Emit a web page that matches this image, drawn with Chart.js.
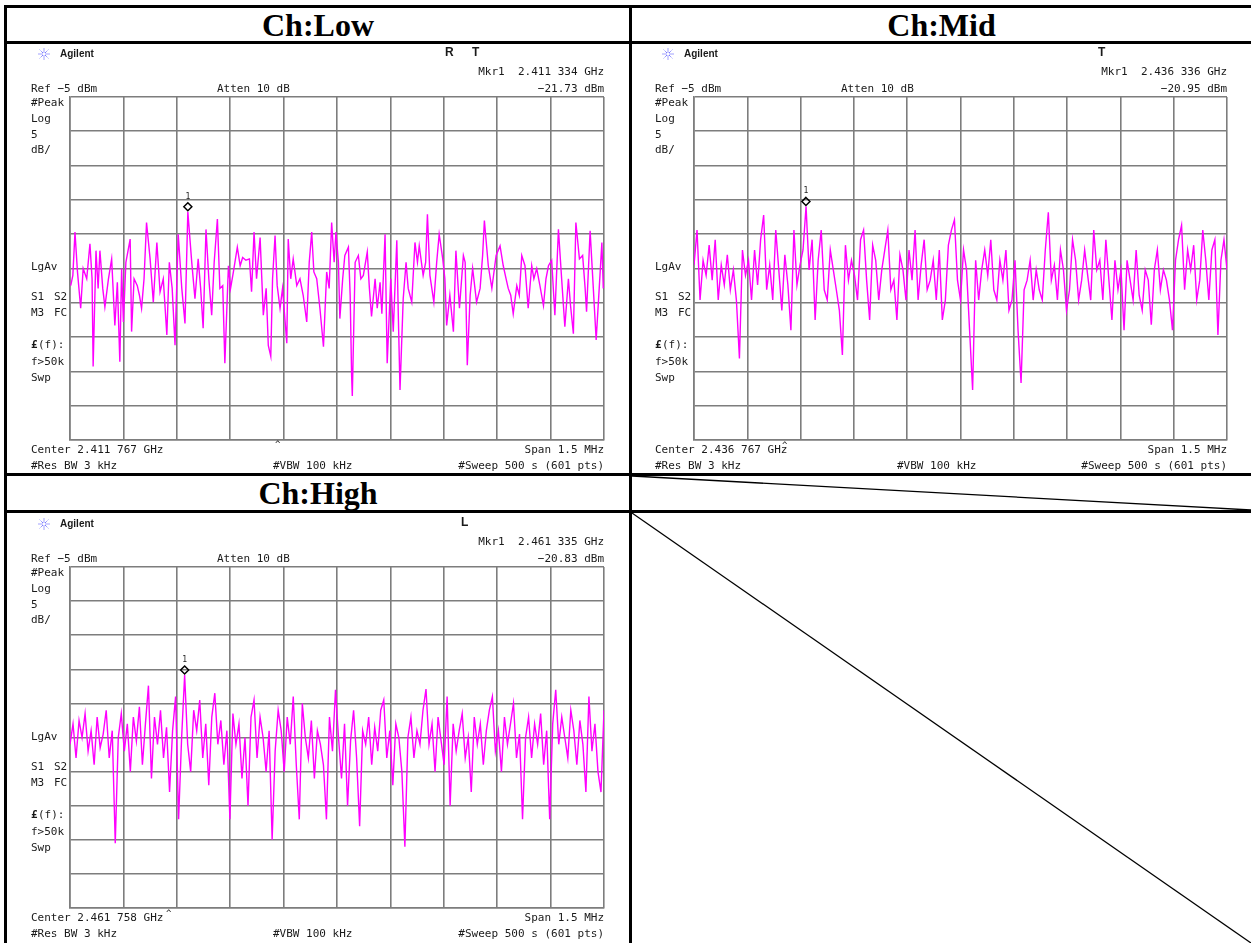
<!DOCTYPE html>
<html>
<head>
<meta charset="utf-8">
<script src="https://cdn.jsdelivr.net/npm/chart.js@4.4.1/dist/chart.umd.min.js"></script>
<style>
  html, body { margin: 0; padding: 0; background: #fff; width: 1251px; height: 943px; overflow: hidden; }
  .wrap { position: relative; width: 1251px; height: 943px; }
  .rule { position: absolute; background: #000; }
  .title { position: absolute; font-family: "Liberation Serif", "Times New Roman", serif; font-weight: bold;
           font-size: 32px; line-height: 34px; text-align: center; color: #000; }
  canvas { position: absolute; }
  svg { position: absolute; left: 0; top: 0; }
</style>
</head>
<body>
<div class="wrap">
  <canvas id="lowChart" width="622" height="430" style="left:7px;top:44px"></canvas>
  <canvas id="midChart" width="622" height="430" style="left:632px;top:44px"></canvas>
  <canvas id="highChart" width="622" height="430" style="left:7px;top:513px"></canvas>

  <div class="title" style="left:7px;top:8px;width:622px">Ch:Low</div>
  <div class="title" style="left:632px;top:8px;width:619px">Ch:Mid</div>
  <div class="title" style="left:7px;top:476px;width:622px">Ch:High</div>

  <!-- table rules -->
  <div class="rule" style="left:4px;top:5px;width:1247px;height:3px"></div>
  <div class="rule" style="left:4px;top:41px;width:1247px;height:3px"></div>
  <div class="rule" style="left:4px;top:473px;width:1247px;height:3px"></div>
  <div class="rule" style="left:4px;top:510px;width:1247px;height:3px"></div>
  <div class="rule" style="left:4px;top:5px;width:3px;height:938px"></div>
  <div class="rule" style="left:629px;top:5px;width:3px;height:938px"></div>

  <svg width="1251" height="943">
    <line x1="632" y1="476" x2="1251" y2="510" stroke="#000" stroke-width="1.3"/>
    <line x1="632" y1="513" x2="1251" y2="943" stroke="#000" stroke-width="1.3"/>
  </svg>
</div>

<script>
// Spectrum analyzer screens: span 1.5 MHz around each centre, Ref -5 dBm, 5 dB/div

// Ch:Low trace, frequency offset from centre (kHz) and level (dBm)
const lowFreq = [
  -748, -742, -736, -729, -720, -713, -703, -694, -688, -685, -677, -671, -666, -658, -652, -642,
  -633, -624, -617, -610, -605, -600, -593, -581, -577, -570, -561, -555, -549, -542, -535, -525,
  -516, -506, -497, -488, -478, -471, -463, -455, -446, -436, -427, -419, -408, -399, -390, -383,
  -376, -368, -360, -352, -345, -336, -329, -321, -315, -305, -299, -291, -280, -272, -265, -256,
  -246, -240, -233, -226, -216, -207, -199, -193, -186, -181, -174, -168, -160, -153, -141, -137,
  -130, -123, -113, -104, -95, -85, -78, -71, -65, -57, -48, -38, -29, -22, -15, -8,
  -3, 4, 8, 16, 22, 32, 37, 41, 43, 51, 60, 67, 74, 85, 91, 97,
  107, 113, 121, 126, 135, 141, 151, 158, 168, 172, 177, 186, 194, 200, 210, 219,
  226, 231, 242, 249, 254, 261, 272, 280, 287, 297, 303, 308, 317, 327, 334, 344,
  355, 360, 366, 374, 381, 392, 402, 409, 414, 425, 435, 447, 458, 467, 475, 481,
  488, 495, 505, 512, 519, 528, 537, 547, 553, 561, 570, 580, 587, 594, 603, 612,
  622, 631, 640, 650, 656, 664, 671, 681, 690, 697, 701, 711, 720, 728, 737, 744,
  748
];
const lowLevel = [
  -32.5, -31.0, -24.7, -30.5, -35.8, -30.0, -31.5, -26.4, -31.5, -44.3, -27.4, -32.9, -27.4, -32.9, -35.6, -31.5,
  -28.6, -38.3, -32.0, -43.6, -30.0, -37.8, -29.1, -25.7, -39.2, -31.5, -32.5, -33.9, -35.8, -31.5, -23.3, -28.6,
  -34.9, -26.2, -33.4, -31.5, -39.7, -29.1, -32.9, -41.2, -25.0, -32.9, -38.0, -21.73, -29.1, -34.4, -28.6, -32.9,
  -38.7, -24.3, -31.5, -36.8, -29.1, -22.8, -32.9, -32.5, -43.8, -29.6, -32.9, -30.5, -26.9, -29.6, -28.4, -28.8,
  -28.6, -33.4, -24.7, -31.5, -25.5, -36.8, -32.9, -41.2, -42.8, -31.5, -25.2, -32.5, -35.8, -32.9, -40.9, -25.7,
  -31.5, -28.6, -32.5, -31.5, -33.9, -37.8, -29.1, -24.7, -30.5, -31.5, -35.8, -41.4, -30.5, -32.9, -23.3, -29.1,
  -24.7, -29.1, -37.3, -31.5, -28.1, -26.9, -33.9, -45.5, -48.6, -29.1, -28.1, -31.5, -31.0, -27.6, -32.9, -37.0,
  -31.5, -35.8, -32.0, -36.6, -25.0, -43.8, -31.5, -39.2, -25.9, -36.3, -47.7, -34.4, -29.1, -32.9, -34.9, -26.2,
  -29.1, -26.7, -31.0, -29.1, -22.1, -31.0, -34.9, -29.1, -25.0, -28.6, -31.5, -38.3, -33.9, -39.2, -27.4, -35.8,
  -28.1, -29.1, -44.1, -33.9, -30.0, -34.9, -32.9, -28.1, -23.0, -29.6, -32.9, -28.1, -26.7, -29.6, -31.5, -32.9,
  -33.9, -36.6, -32.5, -33.9, -28.1, -29.6, -35.8, -29.6, -31.5, -30.0, -32.5, -35.4, -31.5, -29.6, -28.8, -36.8,
  -24.3, -31.5, -38.5, -31.5, -35.4, -39.5, -23.3, -28.6, -28.1, -32.9, -36.3, -24.5, -32.9, -40.4, -32.5, -26.2,
  -32.9
];

// Ch:Mid trace, sweep points read evenly across the span (dBm)
const midLevel = [
  -29.5, -24.4, -34.6, -28.8, -31.0, -26.6, -31.7, -25.8, -34.6, -29.5,
  -32.4, -28.0, -33.1, -30.2, -34.6, -43.1, -27.3, -31.0, -28.8, -34.6,
  -27.3, -32.4, -25.8, -22.2, -33.1, -29.5, -34.6, -24.4, -30.2, -36.1,
  -28.0, -32.4, -39.0, -24.4, -32.4, -29.5, -27.3, -20.95, -30.2, -25.8,
  -37.5, -28.8, -24.4, -33.1, -34.6, -27.3, -30.2, -33.1, -36.1, -42.6,
  -26.6, -31.7, -28.8, -31.0, -34.6, -25.8, -24.4, -31.7, -37.5, -26.6,
  -28.8, -34.6, -30.2, -27.3, -24.4, -33.1, -31.7, -37.5, -28.0, -30.2,
  -34.6, -27.3, -31.7, -24.4, -34.6, -29.5, -25.8, -33.1, -31.7, -28.8,
  -34.6, -27.3, -37.5, -34.6, -26.6, -24.4, -22.9, -31.7, -34.6, -27.3,
  -30.2, -39.0, -47.7, -28.8, -34.6, -30.2, -27.3, -31.0, -25.8, -33.1,
  -34.6, -28.8, -31.7, -27.3, -36.1, -34.6, -28.8, -39.0, -46.7, -33.1,
  -31.7, -28.8, -34.6, -30.2, -33.1, -34.6, -27.3, -21.8, -31.7, -29.5,
  -34.6, -27.3, -30.2, -36.1, -33.1, -25.8, -28.8, -34.6, -31.7, -27.3,
  -31.0, -34.6, -24.4, -30.2, -28.8, -34.6, -25.8, -31.7, -37.5, -28.8,
  -33.1, -30.2, -39.0, -28.8, -31.7, -34.6, -27.3, -33.9, -36.1, -30.2,
  -31.7, -38.2, -30.2, -27.3, -33.1, -30.2, -31.7, -34.6, -39.0, -28.8,
  -25.8, -23.7, -33.1, -27.3, -30.2, -26.6, -34.6, -31.7, -24.4, -28.8,
  -34.6, -27.3, -25.8, -39.7, -28.8, -25.8, -30.2
];

// Ch:High trace, sweep points read evenly across the span (dBm)
const highLevel = [
  -31, -28, -33, -27.5, -30, -26.5, -32, -29, -34, -27,
  -31.5, -29.5, -26, -33, -29, -45.5, -30, -26.5, -32, -28,
  -35, -27, -30.5, -25.5, -34, -28, -22.4, -36, -27, -31,
  -26, -33, -28.5, -38, -29, -24, -42, -30, -20.83, -31,
  -35, -26, -29, -24.5, -33, -28, -37, -27, -23.5, -31,
  -27.5, -34, -29, -42, -26.5, -31, -28, -36, -30, -40,
  -27, -24.5, -33, -27, -30, -35, -29, -45, -32, -26,
  -29, -35, -27, -31, -24, -34, -42, -25, -30, -33,
  -27.5, -36, -29, -31, -34, -42, -27, -32, -23, -30,
  -36, -28, -40, -30.5, -26, -33, -43, -29, -31, -27,
  -34, -28.5, -32, -26, -24.5, -33, -29, -37, -28, -30,
  -35, -46, -30, -27, -33, -29, -31, -26, -22.9, -31,
  -28, -35, -27, -30.5, -34, -24, -40, -28, -32, -29,
  -26.5, -33, -30, -38, -27, -31, -28, -34, -29, -26,
  -24, -32, -29, -35, -27, -31, -28, -25, -33, -29.5,
  -42, -30, -27, -33, -28, -31, -26.5, -34, -29, -42,
  -28, -23, -31, -27, -30, -33, -26, -29, -34, -27.5,
  -31, -38, -24, -32, -28, -35, -38, -26
];

// Marker 1 positions as drawn (kHz offset, dBm)
const lowMarker = { freq: -419, level: -21.73 };
const midMarker = { freq: -435, level: -20.95 };
const highMarker = { freq: -428, level: -20.83 };

const SPAN_KHZ = 1500;
const GRID = '#7d7d7d';
const TRACE = '#ff00ff';
const TEXT = '#1a1a1a';
const MONO = '11px "DejaVu Sans Mono", monospace';

// Helper function to pair evenly spaced sweep points with their frequency
function sweepPoints(levels) {
    let step = SPAN_KHZ / (levels.length - 1);
    return levels.map((v, i) => ({ x: -SPAN_KHZ / 2 + i * step, y: v }));
}

// Helper function to pair explicit frequencies with levels
function pairPoints(freqs, levels) {
    return freqs.map((f, i) => ({ x: f, y: levels[i] }));
}

// Helper function to draw the little Agilent starburst
function drawLogo(ctx, cx, cy) {
    ctx.save();
    ctx.strokeStyle = '#4646ff';
    ctx.lineWidth = 1;
    ctx.setLineDash([1, 1]);
    for (let k = 0; k < 8; k++) {
        let ang = k * Math.PI / 4;
        ctx.beginPath();
        ctx.moveTo(cx + Math.cos(ang) * 1.5, cy + Math.sin(ang) * 1.5);
        ctx.lineTo(cx + Math.cos(ang) * 6, cy + Math.sin(ang) * 6);
        ctx.stroke();
    }
    ctx.restore();
}

// Draws the analyzer annotations around the graticule
const screenText = {
    id: 'screenText',
    afterDraw(chart, args, info) {
        if (!info || !info.mkrFreq) return;
        const ctx = chart.ctx;
        const a = chart.chartArea;
        const left = a.left - 39;
        ctx.save();
        ctx.fillStyle = TEXT;
        ctx.textBaseline = 'middle';

        drawLogo(ctx, a.left - 26, a.top - 43);
        ctx.font = 'bold 10px "Liberation Sans", Arial, sans-serif';
        ctx.textAlign = 'left';
        ctx.fillText('Agilent', a.left - 10, a.top - 43);
        ctx.font = 'bold 12px "Liberation Sans", Arial, sans-serif';
        info.status.forEach(s => ctx.fillText(s[0], a.left + s[1], a.top - 44));

        ctx.font = MONO;
        ctx.textAlign = 'right';
        ctx.fillText('Mkr1  ' + info.mkrFreq, a.right, a.top - 25);
        ctx.fillText(info.mkrLevel, a.right, a.top - 8);
        ctx.fillText('Span 1.5 MHz', a.right, a.bottom + 10);
        ctx.fillText('#Sweep 500 s (601 pts)', a.right, a.bottom + 26);

        ctx.textAlign = 'left';
        ctx.fillText('Ref \u22125 dBm', left, a.top - 8);
        ctx.fillText('Atten 10 dB', a.left + 147, a.top - 8);
        [['#Peak', 6], ['Log', 22], ['5', 38], ['dB/', 53], ['LgAv', 170],
         ['S1', 200], ['M3', 216], ['f>50k', 265], ['Swp', 281]].forEach(t => {
            ctx.fillText(t[0], left, a.top + t[1]);
        });
        ctx.fillText('S2', left + 23, a.top + 200);
        ctx.fillText('FC', left + 23, a.top + 216);
        ctx.font = 'bold 11px "DejaVu Sans Mono", monospace';
        ctx.fillText('\u00a3', left, a.top + 248);
        ctx.font = MONO;
        ctx.fillText('(f):', left + 7, a.top + 248);

        ctx.fillText('Center ' + info.center, left, a.bottom + 10);
        ctx.fillText('#Res BW 3 kHz', left, a.bottom + 26);
        ctx.fillText('#VBW 100 kHz', a.left + 203, a.bottom + 26);
        ctx.font = '9px "DejaVu Sans Mono", monospace';
        ctx.fillText('^', a.left + info.caret[0], a.bottom + info.caret[1]);

        // marker 1 diamond, sitting just above the trace point
        const m = info.marker;
        const mx = chart.scales.x.getPixelForValue(m.freq);
        const my = chart.scales.y.getPixelForValue(m.level) - 5;
        ctx.strokeStyle = '#000';
        ctx.lineWidth = 1.5;
        ctx.beginPath();
        ctx.moveTo(mx, my - 4);
        ctx.lineTo(mx + 4, my);
        ctx.lineTo(mx, my + 4);
        ctx.lineTo(mx - 4, my);
        ctx.closePath();
        ctx.stroke();
        ctx.font = '8px "DejaVu Sans Mono", monospace';
        ctx.textAlign = 'center';
        ctx.fillText('1', mx, my - 10);
        ctx.restore();
    }
};

// Helper function to initialize one analyzer screen
function initializeScreen(id, points, pad, info) {
    const gridOpts = { color: GRID, lineWidth: 1.6, drawTicks: false };
    return new Chart(document.getElementById(id), {
        type: 'line',
        data: {
            datasets: [{
                data: points,
                borderColor: TRACE,
                borderWidth: 1.4,
                pointRadius: 0,
                tension: 0,
            }],
        },
        options: {
            responsive: false,
            animation: false,
            events: [],
            layout: { padding: pad },
            plugins: {
                legend: { display: false },
                tooltip: { enabled: false },
                screenText: info,
            },
            scales: {
                x: {
                    type: 'linear',
                    min: -SPAN_KHZ / 2,
                    max: SPAN_KHZ / 2,
                    ticks: { display: false, stepSize: 150 },
                    grid: gridOpts,
                    border: { color: GRID, width: 1.6 },
                },
                y: {
                    min: -55,
                    max: -5,
                    ticks: { display: false, stepSize: 5 },
                    grid: gridOpts,
                    border: { color: GRID, width: 1.6 },
                },
            },
        },
        plugins: [screenText],
    });
}

initializeScreen('lowChart', pairPoints(lowFreq, lowLevel),
    { left: 63, top: 53, right: 25, bottom: 34 },
    { mkrFreq: '2.411 334 GHz', mkrLevel: '\u221221.73 dBm', center: '2.411 767 GHz',
      status: [['R', 375], ['T', 402]], caret: [205, 5], marker: lowMarker });

initializeScreen('midChart', sweepPoints(midLevel),
    { left: 62, top: 53, right: 27, bottom: 34 },
    { mkrFreq: '2.436 336 GHz', mkrLevel: '\u221220.95 dBm', center: '2.436 767 GHz',
      status: [['T', 404]], caret: [88, 6], marker: midMarker });

initializeScreen('highChart', sweepPoints(highLevel),
    { left: 63, top: 54, right: 25, bottom: 35 },
    { mkrFreq: '2.461 335 GHz', mkrLevel: '\u221220.83 dBm', center: '2.461 758 GHz',
      status: [['L', 391]], caret: [96, 6], marker: highMarker });
</script>
</body>
</html>
